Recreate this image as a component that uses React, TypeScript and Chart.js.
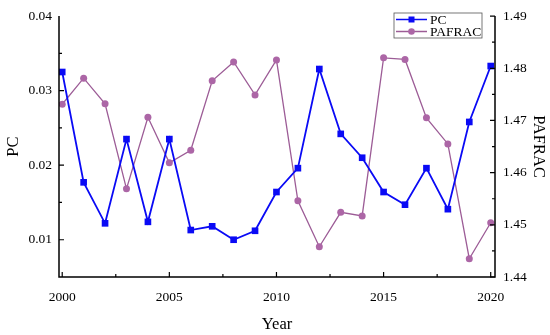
import React, { useEffect, useRef } from "react";
import { Chart, registerables } from "chart.js";

Chart.register(...registerables);

const years = [2000, 2001, 2002, 2003, 2004, 2005, 2006, 2007, 2008, 2009, 2010, 2011, 2012, 2013, 2014, 2015, 2016, 2017, 2018, 2019, 2020];
const pcValues = [0.0325, 0.0177, 0.0122, 0.0235, 0.0124, 0.0235, 0.0113, 0.0118, 0.0100, 0.0112, 0.0164, 0.0196, 0.0329, 0.0242, 0.0210, 0.0164, 0.0147, 0.0196, 0.0141, 0.0258, 0.0333];
const pafracValues = [1.4731, 1.4781, 1.4732, 1.4569, 1.4706, 1.4619, 1.4643, 1.4776, 1.4812, 1.4749, 1.4816, 1.4546, 1.4458, 1.4524, 1.4517, 1.4820, 1.4817, 1.4705, 1.4655, 1.4435, 1.4504];
const xTicks = [2000, 2005, 2010, 2015, 2020];
const leftTicks = [0.01, 0.02, 0.03, 0.04];
const rightTicks = [1.44, 1.45, 1.46, 1.47, 1.48, 1.49];

const BLUE = "#0a0af5";
const PURPLE = "#ac66a6";
const PURPLE_LINE = "#9c5c96";
const FONT = "'Liberation Serif', 'Times New Roman', serif";

const axesPlugin = {
  id: "axesPlugin",
  afterDraw(chart: any) {
    const ctx = chart.ctx;
    const { left, right, top, bottom } = chart.chartArea;
    const x = chart.scales.x;
    const y = chart.scales.y;
    const y2 = chart.scales.y2;
    ctx.save();
    ctx.strokeStyle = "#000";
    ctx.lineWidth = 1.5;
    ctx.beginPath();
    ctx.moveTo(left, top);
    ctx.lineTo(left, bottom);
    ctx.lineTo(right, bottom);
    ctx.lineTo(right, top);
    ctx.stroke();
    ctx.lineWidth = 1.2;
    const major = 5;
    const minor = 3;
    ctx.beginPath();
    for (let v = 2000; v <= 2020; v += 2.5) {
      const px = x.getPixelForValue(v);
      const len = v % 5 === 0 ? major : minor;
      ctx.moveTo(px, bottom);
      ctx.lineTo(px, bottom - len);
    }
    for (let i = 1; i <= 7; i++) {
      const v = 0.005 * i;
      const py = y.getPixelForValue(v);
      const len = i % 2 === 0 ? major : minor;
      if (Math.abs(py - bottom) < 1) continue;
      ctx.moveTo(left, py);
      ctx.lineTo(left + len, py);
    }
    for (let i = 0; i <= 10; i++) {
      const v = 1.44 + 0.005 * i;
      const py = y2.getPixelForValue(v);
      const len = i % 2 === 0 ? major : minor;
      ctx.moveTo(right, py);
      ctx.lineTo(right - len, py);
    }
    ctx.stroke();

    // legend
    const bx = 394, by = 13, bw = 88, bh = 25;
    ctx.fillStyle = "#fff";
    ctx.fillRect(bx, by, bw, bh);
    ctx.strokeStyle = "#555";
    ctx.lineWidth = 0.8;
    ctx.strokeRect(bx, by, bw, bh);
    const items = [
      { label: "PC", color: BLUE, line: BLUE, shape: "rect" },
      { label: "PAFRAC", color: PURPLE, line: PURPLE_LINE, shape: "circle" },
    ];
    ctx.font = `13.5px ${FONT}`;
    ctx.textBaseline = "middle";
    items.forEach((it, i) => {
      const cy = by + 6.5 + i * 12;
      ctx.strokeStyle = it.line;
      ctx.lineWidth = 1.5;
      ctx.beginPath();
      ctx.moveTo(bx + 2, cy);
      ctx.lineTo(bx + 33, cy);
      ctx.stroke();
      ctx.fillStyle = it.color;
      if (it.shape === "rect") {
        ctx.fillRect(bx + 17.5 - 3, cy - 3, 6, 6);
      } else {
        ctx.beginPath();
        ctx.arc(bx + 17.5, cy, 3.3, 0, Math.PI * 2);
        ctx.fill();
      }
      ctx.fillStyle = "#000";
      ctx.textAlign = "left";
      ctx.fillText(it.label, bx + 36, cy + 0.5);
    });
    ctx.restore();
  },
};

export default function App() {
  const ref = useRef<HTMLCanvasElement>(null);
  useEffect(() => {
    document.body.style.margin = "0";
    const chart = new Chart(ref.current as HTMLCanvasElement, {
      type: "line",
      data: {
        labels: years,
        datasets: [
          {
            label: "PC",
            data: years.map((yr, i) => ({ x: yr, y: pcValues[i] })),
            yAxisID: "y",
            borderColor: BLUE,
            backgroundColor: BLUE,
            borderWidth: 1.8,
            pointStyle: "rect",
            pointRadius: 4.7,
            pointHoverRadius: 4.7,
            pointBorderWidth: 0,
            tension: 0,
          },
          {
            label: "PAFRAC",
            data: years.map((yr, i) => ({ x: yr, y: pafracValues[i] })),
            yAxisID: "y2",
            borderColor: PURPLE_LINE,
            backgroundColor: PURPLE,
            borderWidth: 1.3,
            pointStyle: "circle",
            pointRadius: 3.5,
            pointHoverRadius: 3.5,
            pointBorderWidth: 0,
            tension: 0,
          },
        ],
      },
      plugins: [axesPlugin],
      options: {
        responsive: false,
        animation: false,
        layout: { padding: { top: 11, right: 0, left: 0, bottom: 0 } },
        plugins: { legend: { display: false }, tooltip: { enabled: false } },
        scales: {
          x: {
            type: "linear",
            min: 1999.85,
            max: 2020.2,
            grid: { display: false, drawTicks: false },
            border: { display: false },
            afterBuildTicks: (s: any) => { s.ticks = xTicks.map((v) => ({ value: v })); },
            afterFit: (s: any) => { s.height = 58; },
            ticks: {
              color: "#000",
              padding: 12,
              font: { family: FONT, size: 13.5 },
              callback: (v: any) => String(v),
            },
            title: { display: true, text: "Year", color: "#000", font: { family: FONT, size: 16.5 }, padding: { top: 0, bottom: 0 } },
          },
          y: {
            type: "linear",
            position: "left",
            min: 0.005,
            max: 0.04,
            grid: { display: false, drawTicks: false },
            border: { display: false },
            afterBuildTicks: (s: any) => { s.ticks = leftTicks.map((v) => ({ value: v })); },
            afterFit: (s: any) => { s.width = 59; },
            ticks: {
              color: "#000",
              padding: 7,
              font: { family: FONT, size: 13.5 },
              callback: (v: any) => Number(v).toFixed(2),
            },
            title: { display: true, text: "PC", color: "#000", font: { family: FONT, size: 16.5 }, padding: { top: 4, bottom: 0 } },
          },
          y2: {
            type: "linear",
            position: "right",
            min: 1.44,
            max: 1.49,
            grid: { display: false, drawTicks: false },
            border: { display: false },
            afterBuildTicks: (s: any) => { s.ticks = rightTicks.map((v) => ({ value: v })); },
            afterFit: (s: any) => { s.width = 55; },
            ticks: {
              color: "#000",
              padding: 8,
              font: { family: FONT, size: 13.5 },
              callback: (v: any) => Number(v).toFixed(2),
            },
            title: { display: true, text: "PAFRAC", color: "#000", font: { family: FONT, size: 16.5 }, padding: { top: 2, bottom: 0 } },
          },
        },
      },
    } as any);
    return () => chart.destroy();
  }, []);
  return <canvas ref={ref} width={550} height={335} style={{ display: "block" }} />;
}
